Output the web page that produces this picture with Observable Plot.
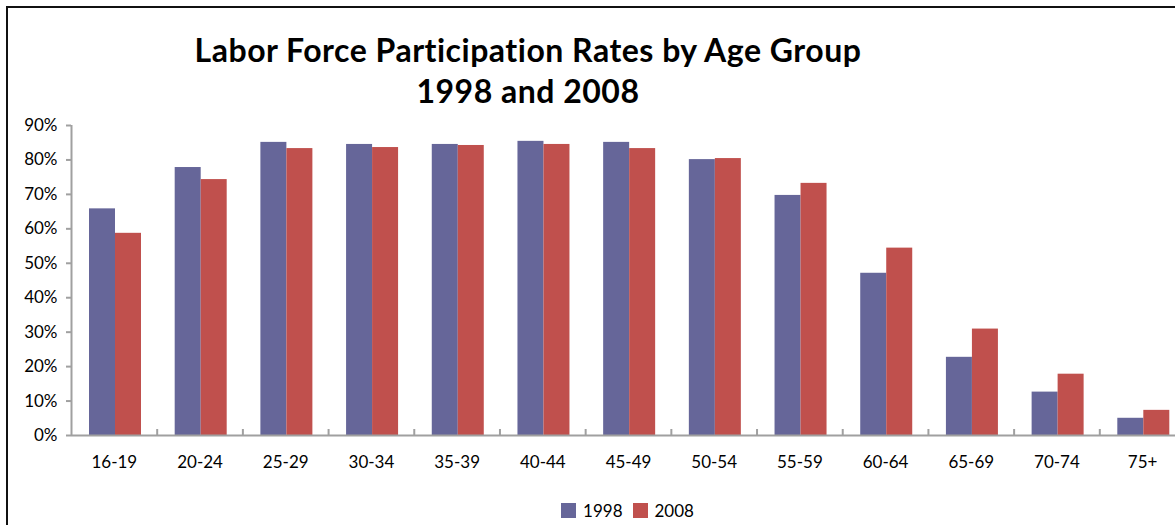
<!DOCTYPE html>
<html>
<head>
<meta charset="utf-8">
<script src="https://cdn.jsdelivr.net/npm/d3@7"></script>
<script src="https://cdn.jsdelivr.net/npm/@observablehq/plot@0.6"></script>
<style>
  html, body { margin: 0; padding: 0; background: #fff; overflow: hidden; }
  body { width: 1175px; height: 525px; position: relative; font-family: Lato, "Open Sans", sans-serif; }
  #frame { position: absolute; left: 6px; top: 6px; width: 1200px; height: 530px; border: 2px solid #111; box-sizing: border-box; }
  #title { position: absolute; left: 128px; width: 800px; top: 29px; text-align: center; font-weight: 700; font-size: 32px; letter-spacing: 0.5px; line-height: 41px; color: #000; }
  #chart { position: absolute; left: 0; top: 100px; }
  #legend { position: absolute; left: 0; width: 1175px; top: 500px; display: flex; justify-content: center; align-items: center; font-size: 17px; color: #000; padding-left: 80px; box-sizing: border-box; }
  #legend .sw { width: 15px; height: 15px; display: inline-block; margin-right: 7px; }
  #legend .item { display: flex; align-items: center; margin: 0 5px; }
</style>
</head>
<body>
<div id="frame"></div>
<div id="title">Labor Force Participation Rates by Age Group<br>1998 and 2008</div>
<div id="chart"></div>
<div id="legend"></div>
<script>
// Age groups and participation rates (share of population in the labor force)
const ages = ["16-19", "20-24", "25-29", "30-34", "35-39", "40-44", "45-49",
              "50-54", "55-59", "60-64", "65-69", "70-74", "75+"];
const rate1998 = [0.658, 0.778, 0.851, 0.845, 0.845, 0.854, 0.851, 0.801, 0.697, 0.471, 0.227, 0.126, 0.050];
const rate2008 = [0.587, 0.743, 0.833, 0.836, 0.842, 0.845, 0.833, 0.804, 0.732, 0.544, 0.309, 0.178, 0.073];
const yTicks = [0, 0.1, 0.2, 0.3, 0.4, 0.5, 0.6, 0.7, 0.8, 0.9];
const seriesNames = ["1998", "2008"];
const seriesColors = ["#666699", "#C0504D"];

const rows1998 = ages.map((age, i) => ({age, value: rate1998[i]}));
const rows2008 = ages.map((age, i) => ({age, value: rate2008[i]}));

const axisGrey = "#a0a0a0";
const xLeft = 71, xRight = 1185;
const band = (xRight - xLeft) / ages.length;

const chart = Plot.plot({
  width: 1175,
  height: 380,
  marginTop: 25,
  marginBottom: 45,
  marginLeft: xLeft,
  marginRight: 0,
  style: {fontFamily: "Lato, 'Open Sans', sans-serif", fontSize: "17px", color: "#000", background: "transparent"},
  x: {domain: ages, range: [xLeft, xRight], padding: 0, round: false, label: null},
  y: {domain: [0, 0.9], label: null},
  marks: [
    Plot.barY(rows1998, {x: "age", y: "value", fill: seriesColors[0], insetLeft: 18, insetRight: band - 44}),
    Plot.barY(rows2008, {x: "age", y: "value", fill: seriesColors[1], insetLeft: 44, insetRight: band - 70}),
    // category axis line and tick marks between groups
    Plot.ruleY([0], {stroke: axisGrey, strokeWidth: 2}),
    Plot.ruleX(ages, {x: d => d, dx: -band / 2, y1: 0, y2: 0, insetTop: -6, stroke: axisGrey, strokeWidth: 2}),
    Plot.ruleX([ages[0]], {x: d => d, dx: -band / 2, y1: 0, y2: 0.9, insetTop: -6, stroke: axisGrey, strokeWidth: 2}),
    Plot.axisY({ticks: yTicks, tickFormat: d3.format(".0%"), tickSize: 5, tickPadding: 9, stroke: axisGrey, strokeWidth: 2, strokeOpacity: 1, fill: "#000"}),
    Plot.axisX({tickSize: 0, tickPadding: 20, fill: "#000"})
  ]
});
document.getElementById("chart").appendChild(chart);

const legend = document.getElementById("legend");
seriesNames.forEach((name, i) => {
  const item = document.createElement("span");
  item.className = "item";
  const sw = document.createElement("span");
  sw.className = "sw";
  sw.style.background = seriesColors[i];
  item.appendChild(sw);
  item.appendChild(document.createTextNode(name));
  legend.appendChild(item);
});
</script>
</body>
</html>
